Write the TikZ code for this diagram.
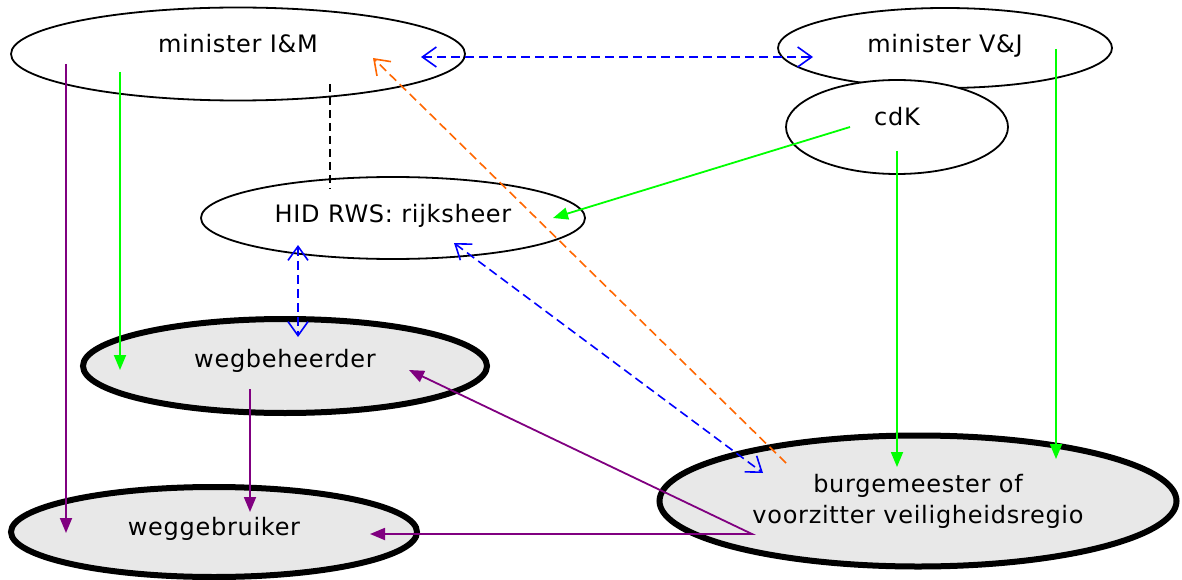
\documentclass[tikz,border=0pt]{standalone}
\usepackage{fontspec}
\newfontfamily\diagfont[LetterSpace=3]{DejaVu Sans}
\usetikzlibrary{shapes.geometric,arrows.meta}
\definecolor{vert}{RGB}{0,255,0}
\definecolor{bleu}{RGB}{0,0,255}
\definecolor{oranje}{RGB}{255,102,0}
\definecolor{paars}{RGB}{128,0,128}
\definecolor{grijs}{RGB}{232,232,232}

\begin{document}
\begin{tikzpicture}[x=1pt,y=-1pt,
  actor/.style={draw,ellipse,line width=1.8pt,inner sep=0pt,align=center,font=\diagfont\fontsize{24}{31}\selectfont},
  hoofd/.style={actor,line width=6pt,fill=grijs},
  regel/.style={text height=10pt,text depth=#1},
  sturing/.style={line width=1.8pt,-{Triangle[length=15pt,width=12pt]}},
  overleg/.style={bleu,line width=1.6pt,dash pattern=on 9pt off 5pt,{Straight Barb[length=14pt,width=20pt]}-{Straight Barb[length=14pt,width=20pt]}}]
\useasboundingbox (0,0) rectangle (1182,580);
\node[actor,regel=12pt,minimum width=454pt,minimum height=93pt] (im) at (238,54) {minister I\&M};
\node[actor,regel=0pt,minimum width=334pt,minimum height=80pt] (vj) at (945,48) {minister V\&J};
\node[actor,regel=12pt,fill=white,minimum width=222pt,minimum height=94pt] (cdk) at (897,127) {cdK};
\node[actor,regel=2pt,minimum width=384pt,minimum height=82pt] (hid) at (393,218) {HID RWS: rijksheer};
\node[hoofd,regel=8pt,minimum width=404pt,minimum height=94pt] (wb) at (285,366) {wegbeheerder};
\node[hoofd,regel=4pt,minimum width=406pt,minimum height=90pt] (wg) at (214,532) {weggebruiker};
\node[hoofd,minimum width=517pt,minimum height=131pt] (bg) at (918,501) {burgemeester of\\voorzitter veiligheidsregio};
\coordinate (imA) at (66,64);
\coordinate (wgA) at (66,533);
\coordinate (imB) at (120,72);
\coordinate (wbB) at (120,370);
\coordinate (imC) at (330,84);
\coordinate (hidC) at (330,189);
\coordinate (imD) at (421,57);
\coordinate (vjD) at (813,57);
\coordinate (imE) at (373,58);
\coordinate (bgE) at (786,463);
\coordinate (cdkF) at (850,127);
\coordinate (hidF) at (553,218);
\coordinate (hidG) at (298,245);
\coordinate (wbG) at (298,337);
\coordinate (hidH) at (454,243);
\coordinate (bgH) at (763,473);
\coordinate (cdkI) at (897,151);
\coordinate (bgI) at (897,467);
\coordinate (vjJ) at (1056,49);
\coordinate (bgJ) at (1056,459);
\coordinate (wbK) at (250,389);
\coordinate (wgK) at (250,512);
\coordinate (wbL) at (409,370);
\coordinate (bgL) at (752,534);
\coordinate (wgL) at (370,534);
\draw[sturing,paars] (imA) -- (wgA);
\draw[sturing,vert] (imB) -- (wbB);
\draw[line width=1.6pt,dash pattern=on 8pt off 5pt] (imC) -- (hidC);
\draw[overleg] (imD) -- (vjD);
\draw[oranje,line width=1.6pt,dash pattern=on 9pt off 5pt,-{Straight Barb[length=14pt,width=20pt]}] (bgE) -- (imE);
\draw[sturing,vert] (cdkF) -- (hidF);
\draw[overleg] (hidG) -- (wbG);
\draw[overleg] (hidH) -- (bgH);
\draw[sturing,vert] (cdkI) -- (bgI);
\draw[sturing,vert] (vjJ) -- (bgJ);
\draw[sturing,paars] (wbK) -- (wgK);
\draw[sturing,paars,{Triangle[length=15pt,width=12pt]}-{Triangle[length=15pt,width=12pt]}] (wbL) -- (bgL) -- (wgL);
\end{tikzpicture}
\end{document}
